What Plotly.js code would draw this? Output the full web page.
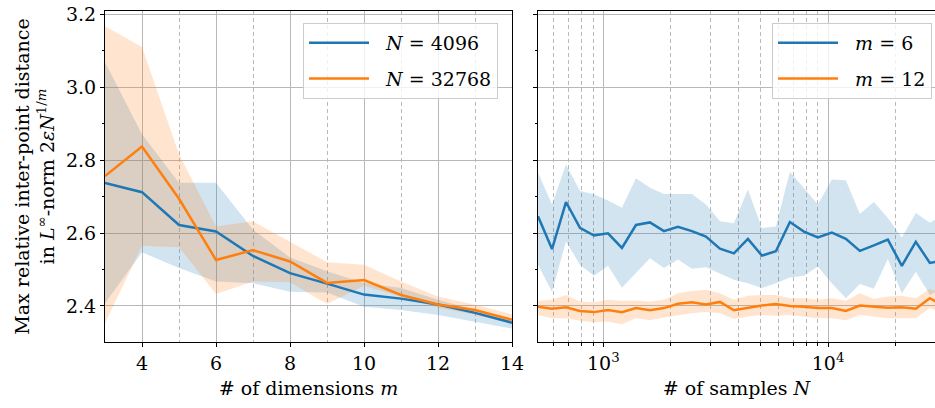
<!DOCTYPE html>
<html><head><meta charset="utf-8">
<script src="https://cdn.plot.ly/plotly-3.0.1.min.js"></script>
<style>html,body{margin:0;padding:0;background:#fff}</style>
</head><body><div id="chart" style="width:935px;height:408px"></div>
<script>
// ---- Left panel: # of dimensions m ----
const dims = [3,4,5,6,7,8,9,10,11,12,13,14];
const n4096Mean  = [2.737, 2.712, 2.622, 2.604, 2.537, 2.490, 2.461, 2.431, 2.420, 2.404, 2.381, 2.354];
const n4096Upper = [3.069, 2.871, 2.738, 2.738, 2.609, 2.533, 2.495, 2.463, 2.449, 2.417, 2.389, 2.366];
const n4096Lower = [2.407, 2.547, 2.504, 2.467, 2.462, 2.439, 2.437, 2.398, 2.389, 2.375, 2.357, 2.338];
const n32768Mean  = [2.756, 2.837, 2.694, 2.526, 2.553, 2.522, 2.463, 2.471, 2.430, 2.404, 2.389, 2.362];
const n32768Upper = [3.167, 3.110, 2.816, 2.618, 2.632, 2.577, 2.520, 2.513, 2.467, 2.426, 2.403, 2.377];
const n32768Lower = [2.352, 2.565, 2.561, 2.433, 2.467, 2.465, 2.405, 2.455, 2.425, 2.395, 2.376, 2.352];

// ---- Right panel: # of samples N ----
const samples = [512, 591, 682, 787, 909, 1049, 1210, 1397, 1612, 1861, 2148, 2479, 2862, 3303, 3812,
                 4400, 5078, 5861, 6765, 7808, 9012, 10402, 12006, 13857, 15993, 18459, 21306, 24590, 28382, 32768];
const m6Mean  = [2.646, 2.556, 2.685, 2.614, 2.593, 2.599, 2.559, 2.622, 2.629, 2.605, 2.617, 2.605, 2.590, 2.557, 2.544,
                 2.584, 2.538, 2.550, 2.630, 2.604, 2.588, 2.601, 2.584, 2.551, 2.566, 2.582, 2.510, 2.576, 2.518, 2.525];
const m6Upper = [2.765, 2.678, 2.788, 2.715, 2.706, 2.689, 2.669, 2.750, 2.724, 2.707, 2.707, 2.707, 2.678, 2.632, 2.627,
                 2.719, 2.614, 2.618, 2.768, 2.724, 2.678, 2.747, 2.745, 2.652, 2.685, 2.641, 2.588, 2.655, 2.628, 2.650];
const m6Lower = [2.513, 2.439, 2.577, 2.513, 2.483, 2.510, 2.450, 2.490, 2.531, 2.504, 2.527, 2.502, 2.506, 2.488, 2.472,
                 2.462, 2.449, 2.462, 2.478, 2.483, 2.508, 2.462, 2.421, 2.460, 2.447, 2.529, 2.435, 2.494, 2.430, 2.450];
const m12Mean  = [2.398, 2.392, 2.396, 2.386, 2.383, 2.389, 2.383, 2.394, 2.388, 2.394, 2.406, 2.410, 2.404, 2.411, 2.388,
                  2.395, 2.401, 2.405, 2.400, 2.398, 2.394, 2.394, 2.386, 2.401, 2.399, 2.395, 2.396, 2.392, 2.421, 2.400];
const m12Upper = [2.414, 2.417, 2.430, 2.412, 2.410, 2.417, 2.414, 2.415, 2.412, 2.417, 2.435, 2.441, 2.444, 2.435, 2.417,
                  2.428, 2.430, 2.430, 2.421, 2.421, 2.417, 2.421, 2.414, 2.435, 2.419, 2.426, 2.428, 2.421, 2.447, 2.430];
const m12Lower = [2.375, 2.366, 2.366, 2.359, 2.355, 2.357, 2.350, 2.366, 2.361, 2.368, 2.375, 2.380, 2.383, 2.380, 2.364,
                  2.371, 2.375, 2.373, 2.375, 2.371, 2.366, 2.366, 2.361, 2.375, 2.371, 2.366, 2.366, 2.366, 2.394, 2.380];

const dimTicks = [4, 6, 8, 10, 12, 14];
const sampleTicks = [1000, 10000];
const sampleTickText = ['10<sup>3</sup>', '10<sup>4</sup>'];
const sampleMinorTicks = [600, 700, 800, 900, 2000, 3000, 4000, 5000, 6000, 7000, 8000, 9000, 20000, 30000];
const yTicks = [2.4, 2.6, 2.8, 3.0, 3.2];
const yTickText = ['2.4', '2.6', '2.8', '3.0', '3.2'];

const BLUE = '#1f77b4', ORANGE = '#ff7f0e';
const BLUE_F = 'rgba(31,119,180,0.2)', ORANGE_F = 'rgba(255,127,14,0.2)';
const FONT = '"DejaVu Serif", serif';
const FS = 19;
const SP = '\u00a0';

function band(x, lo, hi, color, xa, ya) {
  return {x: x.concat(x.slice().reverse()), y: hi.concat(lo.slice().reverse()),
          xaxis: xa, yaxis: ya, type: 'scatter', mode: 'lines', fill: 'toself',
          fillcolor: color, line: {width: 0, color: 'rgba(0,0,0,0)'}, hoverinfo: 'skip', showlegend: false};
}
function line(x, y, color, name, xa, ya, leg, grp) {
  return {x: x, y: y, xaxis: xa, yaxis: ya, type: 'scatter', mode: 'lines', name: name,
          line: {color: color, width: 2.5}, legend: leg, legendgroup: grp};
}
function lbl(sym, val) { return SP + SP + '<i>' + sym + '</i>' + SP + '=' + SP + val; }

const traces = [
  band(dims, n4096Lower, n4096Upper, BLUE_F, 'x', 'y'),
  band(dims, n32768Lower, n32768Upper, ORANGE_F, 'x', 'y'),
  line(dims, n4096Mean, BLUE, lbl('N', '4096'), 'x', 'y', 'legend', 'a'),
  line(dims, n32768Mean, ORANGE, lbl('N', '32768'), 'x', 'y', 'legend', 'b'),
  band(samples, m6Lower, m6Upper, BLUE_F, 'x2', 'y2'),
  band(samples, m12Lower, m12Upper, ORANGE_F, 'x2', 'y2'),
  line(samples, m6Mean, BLUE, lbl('m', '6'), 'x2', 'y2', 'legend2', 'c'),
  line(samples, m12Mean, ORANGE, lbl('m', '12'), 'x2', 'y2', 'legend2', 'd'),
];

const gridMajor = '#b8b8b8';
const gridMinor = '#a8a8a8';
const yRange = [2.301, 3.209];
const yCommon = {
  range: yRange, tickmode: 'array', tickvals: yTicks,
  showline: true, linecolor: '#000', linewidth: 1,
  ticks: 'outside', ticklen: 4, tickcolor: '#000',
  showgrid: true, gridcolor: gridMajor, gridwidth: 1, zeroline: false,
  minor: {dtick: 0.1, tick0: 2.3, ticks: 'outside', ticklen: 2.5, tickcolor: '#000', showgrid: false},
  tickfont: {family: FONT, size: FS, color: '#000'}
};
const legendCommon = {
  bgcolor: 'rgba(255,255,255,0.8)', bordercolor: '#cccccc', borderwidth: 1,
  font: {family: FONT, size: FS, color: '#000'}, xref: 'paper', yref: 'paper',
  xanchor: 'right', yanchor: 'top', tracegroupgap: 8, itemwidth: 60
};

const layout = {
  width: 935, height: 408,
  margin: {l: 105, r: 0, t: 11, b: 66},
  paper_bgcolor: '#fff', plot_bgcolor: '#fff',
  font: {family: FONT, color: '#000'},
  showlegend: true,
  xaxis: {
    domain: [0, 0.4904], anchor: 'y', range: [3, 14],
    tickmode: 'array', tickvals: dimTicks,
    showline: true, mirror: true, linecolor: '#000', linewidth: 1,
    ticks: 'outside', ticklen: 4, tickcolor: '#000',
    showgrid: true, gridcolor: gridMajor, gridwidth: 1, zeroline: false,
    minor: {dtick: 1, tick0: 3, showgrid: true, gridcolor: gridMinor, griddash: '4px,3px', gridwidth: 0.8, ticks: ''},
    tickfont: {family: FONT, size: FS, color: '#000'},
    title: {text: '# of dimensions <i>m</i>', font: {family: FONT, size: FS, color: '#000'}, standoff: 8}
  },
  yaxis: Object.assign({}, yCommon, {
    domain: [0, 1], anchor: 'x', mirror: true, ticktext: yTickText,
    title: {text: 'Max relative inter-point distance<br>in <i>L</i><sup>∞</sup>-norm 2<i>εN</i><sup>1/<i>m</i></sup>',
            font: {family: FONT, size: FS, color: '#000'}, standoff: 6}
  }),
  xaxis2: {
    domain: [0.5217, 1], anchor: 'y2', type: 'log', range: [Math.log10(512), 4.4761],
    tickmode: 'array', tickvals: sampleTicks, ticktext: sampleTickText,
    showline: true, mirror: true, linecolor: '#000', linewidth: 1,
    ticks: 'outside', ticklen: 4, tickcolor: '#000',
    showgrid: true, gridcolor: gridMajor, gridwidth: 1, zeroline: false,
    minor: {tickmode: 'array', tickvals: sampleMinorTicks, showgrid: true, gridcolor: gridMinor,
            griddash: '4px,3px', gridwidth: 0.8, ticks: 'outside', ticklen: 2.5, tickcolor: '#000'},
    tickfont: {family: FONT, size: FS, color: '#000'},
    title: {text: '# of samples <i>N</i>', font: {family: FONT, size: FS, color: '#000'}, standoff: 8}
  },
  yaxis2: Object.assign({}, yCommon, {
    domain: [0, 1], anchor: 'x2', matches: 'y', mirror: false, showticklabels: false
  }),
  legend: Object.assign({}, legendCommon, {x: 0.4735, y: 0.964}),
  legend2: Object.assign({}, legendCommon, {x: 0.9964, y: 0.964})
};

Plotly.newPlot('chart', traces, layout, {staticPlot: true, displayModeBar: false});
</script></body></html>
